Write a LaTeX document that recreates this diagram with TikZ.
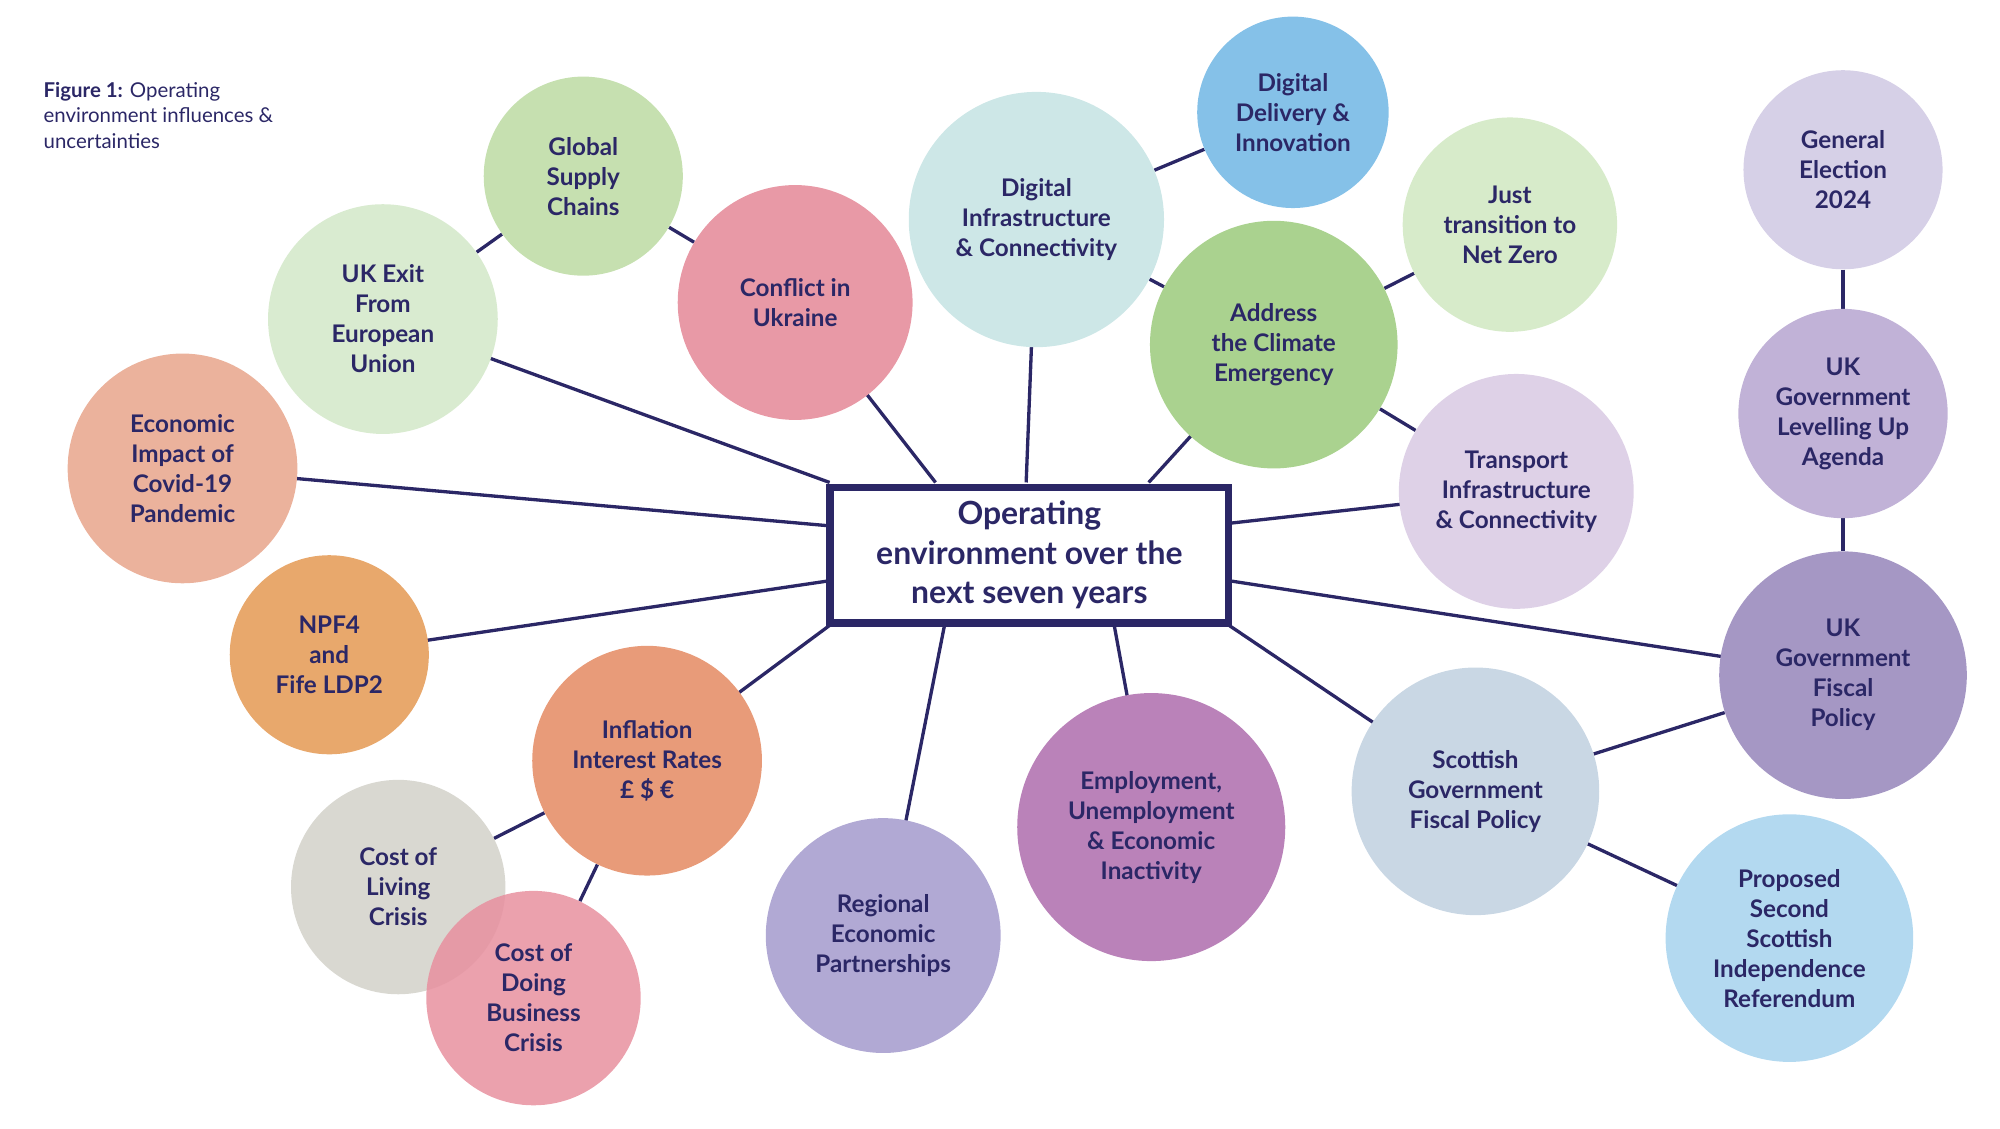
\documentclass[tikz,border=0pt]{standalone}
\usepackage{fontspec}
\setmainfont{Lato}
\usetikzlibrary{backgrounds}
\definecolor{navy}{HTML}{2B2766}
\definecolor{cgsc}{HTML}{C6E0B0}
\definecolor{cuke}{HTML}{D9EBD0}
\definecolor{ceco}{HTML}{EBB29C}
\definecolor{cnpf}{HTML}{E8A86C}
\definecolor{ccui}{HTML}{E899A6}
\definecolor{cdic}{HTML}{CDE7E7}
\definecolor{cddi}{HTML}{85C1E8}
\definecolor{cjtn}{HTML}{D7EBCA}
\definecolor{cace}{HTML}{AAD28F}
\definecolor{ctic}{HTML}{DED1E7}
\definecolor{cge}{HTML}{D6D0E7}
\definecolor{clu}{HTML}{C1B2D7}
\definecolor{cukf}{HTML}{A597C4}
\definecolor{csgf}{HTML}{C9D7E4}
\definecolor{cpss}{HTML}{B3D9F0}
\definecolor{cemp}{HTML}{BA82B9}
\definecolor{crep}{HTML}{B1A9D4}
\definecolor{cinf}{HTML}{E89B79}
\definecolor{ccol}{HTML}{D9D8D1}
\definecolor{ccdb}{HTML}{E8909F}
\tikzset{
  c/.style={circle,minimum size=#1*2pt,inner sep=0pt,align=center,font=\fontsize{19}{23.5}\selectfont\bfseries,text=navy},
  ln/.style={draw=navy,line width=2.6pt}
}
\begin{document}
\begin{tikzpicture}[x=1pt,y=-1pt]
\useasboundingbox (0,0) rectangle (1567,884);
\node[anchor=north west,align=left,text=navy,font=\fontsize{16}{20}\selectfont,inner sep=0pt] (cap) at (34,64) {\textbf{Figure 1:} Operating\\environment influences \&\\uncertainties};
\node[draw=navy,line width=6pt,fill=white,minimum width=312pt,minimum height=106pt,align=center,text=navy,font=\fontsize{25}{31}\selectfont\bfseries] (box) at (806.5,435) {Operating\\environment over the\\next seven years};
\node[c=78,fill=cgsc] (gsc) at (457,138) {Global\\Supply\\Chains};
\node[c=90,fill=cuke] (uke) at (300,250) {UK Exit\\From\\European\\Union};
\node[c=90,fill=ceco] (eco) at (143,367) {Economic\\Impact of\\Covid-19\\Pandemic};
\node[c=78,fill=cnpf] (npf) at (258,513) {NPF4\\and\\Fife LDP2};
\node[c=92,fill=ccui] (cui) at (623,237) {Conflict in\\Ukraine};
\node[c=100,fill=cdic] (dic) at (812,172) {Digital\\Infrastructure\\\& Connectivity};
\node[c=75,fill=cddi] (ddi) at (1013,88) {Digital\\Delivery \&\\Innovation};
\node[c=84,fill=cjtn] (jtn) at (1183,176) {Just\\transition to\\Net Zero};
\node[c=97,fill=cace] (ace) at (998,270) {Address\\the Climate\\Emergency};
\node[c=92,fill=ctic] (tic) at (1188,385) {Transport\\Infrastructure\\\& Connectivity};
\node[c=78,fill=cge] (ge) at (1444,133) {General\\Election\\2024};
\node[c=82,fill=clu] (lu) at (1444,324) {UK\\Government\\Levelling Up\\Agenda};
\node[c=97,fill=cukf] (ukf) at (1444,529) {UK\\Government\\Fiscal\\Policy};
\node[c=97,fill=csgf] (sgf) at (1156,620) {Scottish\\Government\\Fiscal Policy};
\node[c=97,fill=cpss] (pss) at (1402,735) {Proposed\\Second\\Scottish\\Independence\\Referendum};
\node[c=105,fill=cemp] (emp) at (902,648) {Employment,\\Unemployment\\\& Economic\\Inactivity};
\node[c=92,fill=crep] (rep) at (692,733) {Regional\\Economic\\Partnerships};
\node[c=90,fill=cinf] (inf) at (507,596) {Inflation\\Interest Rates\\£ \$ €};
\node[c=84,fill=ccol] (col) at (312,695) {Cost of\\Living\\Crisis};
\node[c=84,fill=ccdb,fill opacity=0.85,text opacity=1] (cdb) at (418,782) {Cost of\\Doing\\Business\\Crisis};
\coordinate (b1) at (650,378);
\coordinate (b2) at (650,412);
\coordinate (b3) at (650,455);
\coordinate (b4) at (650,490);
\coordinate (b5) at (740,490);
\coordinate (b6) at (873,490);
\coordinate (b7) at (963,490);
\coordinate (b8) at (963,455);
\coordinate (b9) at (963,410);
\coordinate (b10) at (900,378);
\coordinate (b11) at (804,378);
\coordinate (b12) at (733,378);
\begin{pgfonlayer}{background}
\draw[ln] (uke.center) -- (b1);
\draw[ln] (eco.center) -- (b2);
\draw[ln] (npf.center) -- (b3);
\draw[ln] (inf.center) -- (b4);
\draw[ln] (rep.center) -- (b5);
\draw[ln] (emp.center) -- (b6);
\draw[ln] (sgf.center) -- (b7);
\draw[ln] (ukf.center) -- (b8);
\draw[ln] (tic.center) -- (b9);
\draw[ln] (ace.center) -- (b10);
\draw[ln] (dic.center) -- (b11);
\draw[ln] (cui.center) -- (b12);
\draw[ln] (gsc) -- (uke);
\draw[ln] (gsc) -- (cui);
\draw[ln] (dic) -- (ddi);
\draw[ln] (dic) -- (ace);
\draw[ln] (ace) -- (jtn);
\draw[ln] (ace) -- (tic);
\draw[ln] (ge) -- (lu);
\draw[ln] (lu) -- (ukf);
\draw[ln] (ukf) -- (sgf);
\draw[ln] (sgf) -- (pss);
\draw[ln] (inf) -- (col);
\draw[ln] (inf) -- (cdb);
\end{pgfonlayer}
\end{tikzpicture}
\end{document}
